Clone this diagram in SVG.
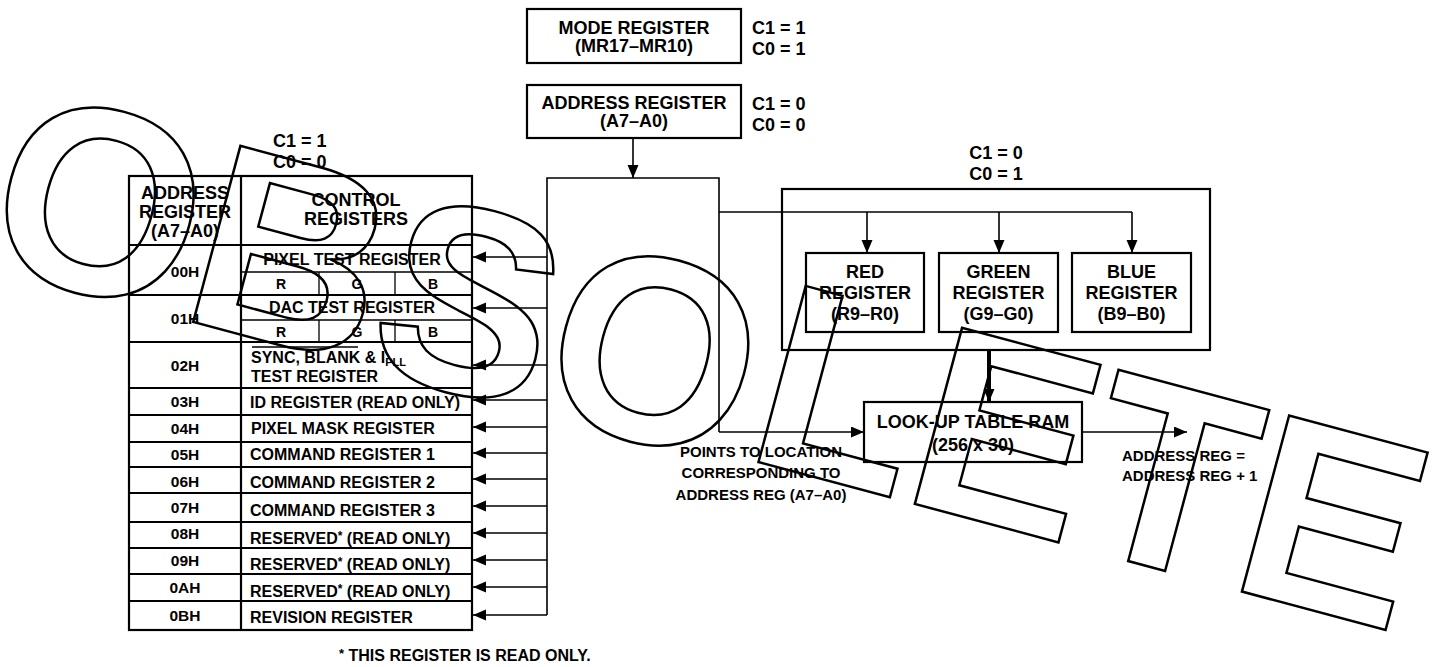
<svg xmlns="http://www.w3.org/2000/svg" width="1437" height="667" viewBox="0 0 1437 667">
<style>
.t{font-family:"Liberation Sans",Arial,sans-serif;font-weight:bold;fill:#000}
.h{font-size:18px}
.r{font-size:16px}
.a{font-size:15.5px;text-anchor:middle}
.m{text-anchor:middle}
.box{fill:none;stroke:#000;stroke-width:2.2}
.thin{fill:none;stroke:#000;stroke-width:1.3}
.ln{fill:none;stroke:#000;stroke-width:1.6}
.wm{font-family:"Liberation Sans",Arial,sans-serif;font-weight:bold;font-size:265px;fill:none;stroke:#000;stroke-width:2.5}
</style>
<defs>
<marker id="ah" markerUnits="userSpaceOnUse" markerWidth="14" markerHeight="12" refX="13" refY="5.5" orient="auto">
<path d="M0,0 L13,5.5 L0,11 z" fill="#000"/>
</marker>
</defs>
<rect width="1437" height="667" fill="#fff"/>

<g id="table">
<rect class="box" x="129" y="176" width="343" height="454"/>
<line class="box" x1="241" y1="176" x2="241" y2="630"/>
<path class="box" d="M129,245H472 M129,295H472 M129,342H472 M129,388H472 M129,415H472 M129,442H472 M129,467H472 M129,493H472 M129,522H472 M129,548H472 M129,574H472 M129,601H472"/>
<path class="thin" d="M241,272H472 M241,320H472 M319,272V295 M395,272V295 M319,320V342 M395,320V342"/>
<text class="t h m" x="185" y="199">ADDRESS</text>
<text class="t h m" x="185" y="218">REGISTER</text>
<text class="t h m" x="185" y="237">(A7–A0)</text>
<text class="t h m" x="356" y="206">CONTROL</text>
<text class="t h m" x="356" y="225">REGISTERS</text>
<text class="t a" x="185" y="277">00H</text>
<text class="t a" x="185" y="324">01H</text>
<text class="t a" x="185" y="371">02H</text>
<text class="t a" x="185" y="407">03H</text>
<text class="t a" x="185" y="434">04H</text>
<text class="t a" x="185" y="460">05H</text>
<text class="t a" x="185" y="487">06H</text>
<text class="t a" x="185" y="513">07H</text>
<text class="t a" x="185" y="539">08H</text>
<text class="t a" x="185" y="566">09H</text>
<text class="t a" x="185" y="593">0AH</text>
<text class="t a" x="185" y="621">0BH</text>
<text class="t r m" x="352" y="265">PIXEL TEST REGISTER</text>
<text class="t m" font-size="14" x="281" y="289">R</text>
<text class="t m" font-size="14" x="357" y="289">G</text>
<text class="t m" font-size="14" x="433" y="289">B</text>
<text class="t r m" x="352" y="313">DAC TEST REGISTER</text>
<text class="t m" font-size="14" x="281" y="337">R</text>
<text class="t m" font-size="14" x="357" y="337">G</text>
<text class="t m" font-size="14" x="433" y="337">B</text>
<line class="thin" x1="252" y1="347" x2="358" y2="347"/>
<text class="t r" x="251" y="363">SYNC, BLANK &amp; I<tspan font-size="11" dy="3">PLL</tspan></text>
<text class="t r" x="251" y="382">TEST REGISTER</text>
<text class="t r" x="250" y="408">ID REGISTER (READ ONLY)</text>
<text class="t r" x="251" y="434">PIXEL MASK REGISTER</text>
<text class="t r" x="250" y="460">COMMAND REGISTER 1</text>
<text class="t r" x="250" y="488">COMMAND REGISTER 2</text>
<text class="t r" x="250" y="516">COMMAND REGISTER 3</text>
<text class="t r" x="250" y="544">RESERVED<tspan font-size="12" dy="-4">*</tspan><tspan dy="4"> (READ ONLY)</tspan></text>
<text class="t r" x="250" y="570">RESERVED<tspan font-size="12" dy="-4">*</tspan><tspan dy="4"> (READ ONLY)</tspan></text>
<text class="t r" x="250" y="597">RESERVED<tspan font-size="12" dy="-4">*</tspan><tspan dy="4"> (READ ONLY)</tspan></text>
<text class="t r" x="250" y="623">REVISION REGISTER</text>
</g>

<g id="ctrl-label">
<text class="t h" x="273" y="147">C1 = 1</text>
<text class="t h" x="273" y="168">C0 = 0</text>
</g>

<g id="mode-register">
<rect class="box" x="527" y="9" width="214" height="54"/>
<text class="t h m" x="634" y="34">MODE REGISTER</text>
<text class="t h m" x="634" y="52">(MR17–MR10)</text>
<text class="t h" x="752" y="34">C1 = 1</text>
<text class="t h" x="752" y="55">C0 = 1</text>
</g>

<g id="address-register">
<rect class="box" x="527" y="85" width="214" height="53"/>
<text class="t h m" x="634" y="109">ADDRESS REGISTER</text>
<text class="t h m" x="634" y="127">(A7–A0)</text>
<text class="t h" x="752" y="110">C1 = 0</text>
<text class="t h" x="752" y="131">C0 = 0</text>
</g>

<g id="rgb-group">
<rect class="box" x="782" y="189" width="428" height="161"/>
<text class="t h m" x="996" y="159">C1 = 0</text>
<text class="t h m" x="996" y="180">C0 = 1</text>
</g>
<g id="red-register">
<rect class="box" x="806" y="253" width="118" height="79"/>
<text class="t h m" x="865" y="278">RED</text>
<text class="t h m" x="865" y="299">REGISTER</text>
<text class="t h m" x="865" y="320">(R9–R0)</text>
</g>
<g id="green-register">
<rect class="box" x="939" y="253" width="119" height="79"/>
<text class="t h m" x="998.5" y="278">GREEN</text>
<text class="t h m" x="998.5" y="299">REGISTER</text>
<text class="t h m" x="998.5" y="320">(G9–G0)</text>
</g>
<g id="blue-register">
<rect class="box" x="1072" y="253" width="119" height="79"/>
<text class="t h m" x="1131.5" y="278">BLUE</text>
<text class="t h m" x="1131.5" y="299">REGISTER</text>
<text class="t h m" x="1131.5" y="320">(B9–B0)</text>
</g>

<g id="lut">
<rect class="box" x="864" y="402" width="218" height="60"/>
<text class="t h m" x="973" y="428">LOOK-UP TABLE RAM</text>
<text class="t h m" x="973" y="451">(256 x 30)</text>
</g>

<g id="notes">
<text class="t m" font-size="15" x="761" y="457">POINTS TO LOCATION</text>
<text class="t m" font-size="15" x="761" y="478">CORRESPONDING TO</text>
<text class="t m" font-size="15" x="761" y="500">ADDRESS REG (A7–A0)</text>
<text class="t" font-size="15" x="1122" y="461">ADDRESS REG =</text>
<text class="t" font-size="15" x="1122" y="481">ADDRESS REG + 1</text>
<text class="t" font-size="16" x="339" y="661"><tspan font-size="13" dy="-3">*</tspan><tspan dy="3"> THIS REGISTER IS READ ONLY.</tspan></text>
</g>

<g id="connectors">
<line class="ln" x1="633" y1="138" x2="633" y2="178" marker-end="url(#ah)"/>
<path class="ln" d="M547,615 V178 H719 V432"/>
<line class="ln" x1="719" y1="432" x2="864" y2="432" marker-end="url(#ah)"/>
<path class="ln" d="M719,212 H1132"/>
<line class="ln" x1="867" y1="212" x2="867" y2="253" marker-end="url(#ah)"/>
<line class="ln" x1="999" y1="212" x2="999" y2="253" marker-end="url(#ah)"/>
<line class="ln" x1="1132" y1="212" x2="1132" y2="253" marker-end="url(#ah)"/>
<line x1="989" y1="350" x2="989" y2="402" stroke="#000" stroke-width="4" marker-end="url(#ah)"/>
<line class="ln" x1="1082" y1="432" x2="1187" y2="432" marker-end="url(#ah)"/>
<line class="ln" x1="547" y1="257" x2="473" y2="257" marker-end="url(#ah)"/>
<line class="ln" x1="547" y1="308" x2="473" y2="308" marker-end="url(#ah)"/>
<line class="ln" x1="547" y1="365" x2="473" y2="365" marker-end="url(#ah)"/>
<line class="ln" x1="547" y1="400" x2="473" y2="400" marker-end="url(#ah)"/>
<line class="ln" x1="547" y1="427" x2="473" y2="427" marker-end="url(#ah)"/>
<line class="ln" x1="547" y1="453" x2="473" y2="453" marker-end="url(#ah)"/>
<line class="ln" x1="547" y1="479" x2="473" y2="479" marker-end="url(#ah)"/>
<line class="ln" x1="547" y1="506" x2="473" y2="506" marker-end="url(#ah)"/>
<line class="ln" x1="547" y1="533" x2="473" y2="533" marker-end="url(#ah)"/>
<line class="ln" x1="547" y1="560" x2="473" y2="560" marker-end="url(#ah)"/>
<line class="ln" x1="547" y1="587" x2="473" y2="587" marker-end="url(#ah)"/>
<line class="ln" x1="547" y1="615" x2="473" y2="615" marker-end="url(#ah)"/>
</g>

<g id="watermark">
<text class="wm" transform="translate(-23,264) rotate(15)">OBSO<tspan dx="8" dy="-11">LETE</tspan></text>
</g>
</svg>
